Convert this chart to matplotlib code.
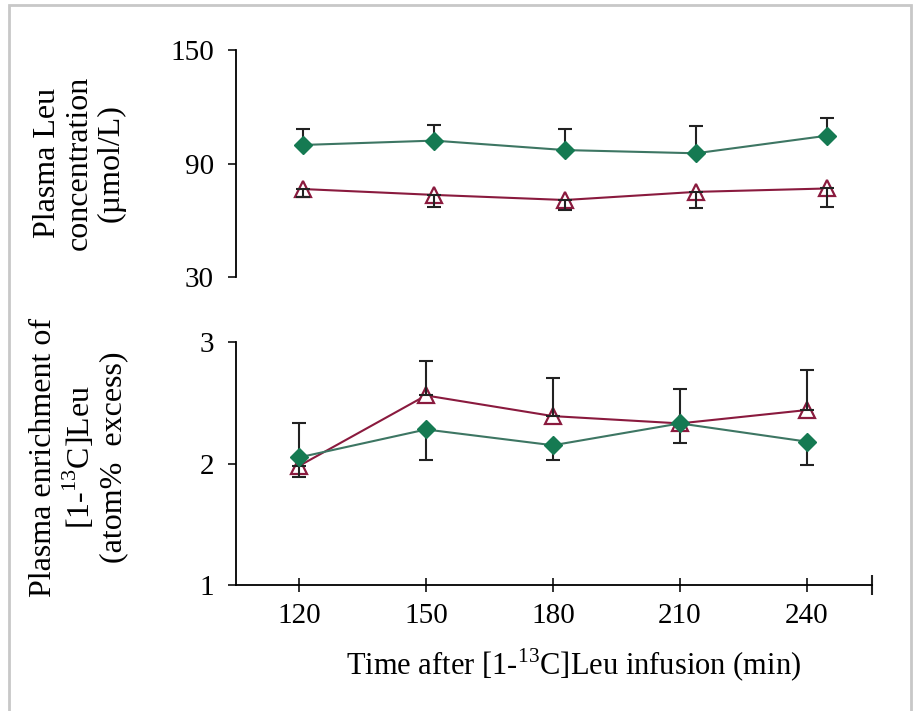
import numpy as np
import matplotlib
matplotlib.use('Agg')
import matplotlib.pyplot as plt
from matplotlib.patches import Rectangle

plt.rcParams['font.family'] = 'Liberation Serif'
plt.rcParams['mathtext.fontset'] = 'custom'
plt.rcParams['mathtext.rm'] = 'Liberation Serif'

# time points (min)
time = [120, 150, 180, 210, 240]

# plasma Leu concentration (umol/L)
conc_green = [99.8, 102.1, 97.1, 95.4, 104.7]
conc_green_err = [8.4, 8.3, 11.1, 14.4, 9.2]
conc_red = [76.5, 73.4, 70.7, 75.0, 76.8]
conc_red_err = [4.2, 6.4, 5.3, 8.7, 9.9]

# plasma enrichment of [1-13C]Leu (atom% excess)
enr_green = [2.05, 2.28, 2.15, 2.33, 2.18]
enr_green_err = [0.16, 0.25, 0.12, 0.16, 0.19]
enr_red = [1.98, 2.56, 2.39, 2.33, 2.44]
enr_red_err = [0.35, 0.28, 0.31, 0.28, 0.33]

green = '#157a52'
green_line = '#3d7663'
red = '#8a1a3e'

W, H = 921, 711
fig = plt.figure(figsize=(W / 100, H / 100), dpi=100)

def px(x0, y0, x1, y1):
    return [x0 / W, 1 - y1 / H, (x1 - x0) / W, (y1 - y0) / H]

ax1 = fig.add_axes(px(236, 50, 872, 277))
ax2 = fig.add_axes(px(236, 342, 872, 585))

zero = [0] * 5

def draw(ax, yr, yr_err, yg, yg_err, red_up):
    # red triangles first, green diamonds on top
    ax.plot(time, yr, color=red, lw=1.5, zorder=2)
    ax.plot(time, yr, ls='none', marker='^', ms=12, mfc='white', mec=red,
            mew=1.6, zorder=3)
    err_r = [zero, yr_err] if red_up else [yr_err, zero]
    ax.errorbar(time, yr, yerr=err_r, fmt='none', ecolor='#222222',
                elinewidth=1.5, capsize=5, capthick=1.5, zorder=4)
    err_g = [yg_err, zero] if red_up else [zero, yg_err]
    ax.errorbar(time, yg, yerr=err_g, fmt='none', ecolor='#222222',
                elinewidth=1.5, capsize=5, capthick=1.5, zorder=5)
    ax.plot(time, yg, color=green_line, lw=1.5, zorder=5)
    ax.plot(time, yg, ls='none', marker='D', ms=9, mfc=green, mec=green,
            zorder=6)

draw(ax1, conc_red, conc_red_err, conc_green, conc_green_err, red_up=False)
draw(ax2, enr_red, enr_red_err, enr_green, enr_green_err, red_up=True)

ax1.set_xlim(104.7, 250.3)
ax1.set_ylim(30, 150)
ax1.set_yticks([30, 90, 150])
ax2.set_xlim(105.1, 255.4)
ax2.set_ylim(1, 3)
ax2.set_yticks([1, 2, 3])
ax2.set_xticks(time)

for ax in (ax1, ax2):
    for s in ('top', 'right'):
        ax.spines[s].set_visible(False)
    ax.spines['left'].set_linewidth(1.3)
    ax.spines['bottom'].set_linewidth(1.3)
    ax.tick_params(axis='y', direction='out', length=6, width=1.3,
                   labelsize=21, pad=10, color='#222222')
    ax.set_facecolor('none')

ax1.spines['bottom'].set_visible(False)
ax1.set_xticks([])

ax2.tick_params(axis='x', direction='inout', length=10, width=1.3,
                labelsize=21, pad=8, color='#222222')
ax2.set_xticks([255.4], minor=True)
ax2.tick_params(axis='x', which='minor', direction='inout', length=14,
                width=1.5, color='#222222')

fig.text(79 / W, 1 - 163 / H, 'Plasma Leu\nconcentration\n(\u00b5mol/L)',
         rotation=90, ha='center', va='center', fontsize=23,
         linespacing=1.12, multialignment='center')
fig.text(79 / W, 1 - 457 / H,
         'Plasma enrichment of\n[1-$^{\\mathregular{13}}$C]Leu\n(atom%  excess)',
         rotation=90, ha='center', va='center', fontsize=23,
         linespacing=1.12, multialignment='center')
fig.text(574 / W, 1 - 665 / H,
         'Time after [1-$^{\\mathregular{13}}$C]Leu infusion (min)',
         ha='center', va='center', fontsize=22)

# light frame around the figure
fig.patches.append(Rectangle((9 / W, -0.01), (911 - 9) / W, 1 - 5 / H + 0.01,
                             transform=fig.transFigure, fill=False,
                             edgecolor='#c8c8c8', lw=2))

fig.savefig('out.png', dpi=100)
